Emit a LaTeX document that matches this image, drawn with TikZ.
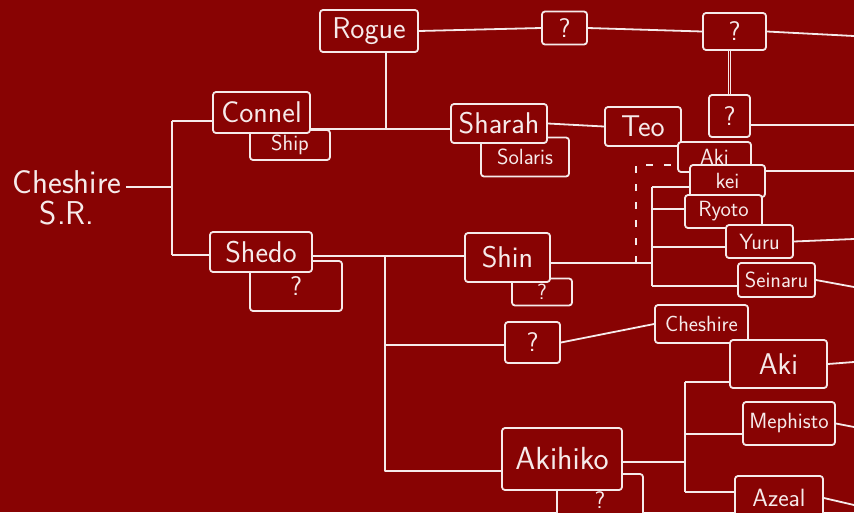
\documentclass[tikz,border=0pt]{standalone}
\usepackage{xcolor}
\usepackage{tikz}
\usetikzlibrary{calc, positioning}

\definecolor{nen}{RGB}{136,3,3}
\definecolor{phan}{RGB}{246,234,234}

\begin{document}
\begin{tikzpicture}[x=1pt, y=-1pt, line width=1.8pt, color=phan, line join=round,
    hop/.style 2 args={draw, fill=nen, rounded corners=3pt, inner sep=0pt,
        minimum width=#1, minimum height=#2, text=phan,
        font=\sffamily\fontsize{30}{32}\selectfont},
    nho/.style={font=\sffamily\fontsize{22}{24}\selectfont},
    hoi/.style={font=\sffamily\fontsize{27}{29}\selectfont}]
    % Nen
    \fill[nen] (0,0) rectangle (854,512);
    \useasboundingbox (0,0) rectangle (854,512);
    \clip (0,0) rectangle (854,512);

    % Goc
    \node[align=center, text=phan, font=\sffamily\fontsize{33}{31}\selectfont] (cheshire) at (67,198) {Cheshire\\S.R.};

    % Cac o phu (ve truoc, bi che mot phan)
    \node[hop={80pt}{30pt}, nho] (ship) at (290,145) {Ship};
    \node[hop={92pt}{50pt}, hoi] (shedoq) at (296,286) {?};
    \node[hop={88pt}{39pt}, nho] (solaris) at (525,157) {Solaris};
    \node[hop={60pt}{27pt}, font=\sffamily\fontsize{22}{24}\selectfont] (shinq) at (542,292) {?};
    \node[hop={86pt}{52pt}, font=\sffamily\fontsize{24}{26}\selectfont] (akihikoq) at (600,500) {?};

    % Doi 1
    \node[hop={97pt}{41pt}] (connel) at (261.5,112.5) {Connel};
    \node[hop={102pt}{40pt}] (shedo) at (261,252) {Shedo};

    % Doi 2
    \node[hop={98pt}{42pt}] (rogue) at (369,31) {Rogue};
    \node[hop={96pt}{39pt}] (sharah) at (499,123.5) {Sharah};
    \node[hop={85pt}{49pt}] (shin) at (507.5,257.5) {Shin};
    \node[hop={55pt}{41pt}, hoi] (qd) at (532.5,342.5) {?};
    \node[hop={120pt}{62pt}, font=\sffamily\fontsize{32}{34}\selectfont] (akihiko) at (562,459) {Akihiko};

    % Doi 3
    \node[hop={45pt}{33pt}, hoi] (qa) at (564.5,28) {?};
    \node[hop={63pt}{37pt}, hoi] (qb) at (734.5,31.5) {?};
    \node[hop={41pt}{42pt}, hoi] (qc) at (729.5,116) {?};
    \node[hop={76pt}{39pt}] (teo) at (643,126.5) {Teo};
    \node[hop={73pt}{30pt}, nho] (akia) at (714.5,157) {Aki};
    \node[hop={75pt}{32pt}, nho] (kei) at (727.5,181) {kei};
    \node[hop={77pt}{33pt}, nho] (ryoto) at (723.5,211.5) {Ryoto};
    \node[hop={67pt}{33pt}, nho] (yuru) at (759.5,241.5) {Yuru};
    \node[hop={77pt}{34pt}, nho] (seinaru) at (776.5,280) {Seinaru};
    \node[hop={93pt}{38pt}, nho] (cheshireb) at (701.5,324) {Cheshire};
    \node[hop={97pt}{48pt}] (akib) at (778.5,364) {Aki};
    \node[hop={92pt}{43pt}, nho] (mephisto) at (789,423.5) {Mephisto};
    \node[hop={88pt}{44pt}, font=\sffamily\fontsize{25}{27}\selectfont] (azeal) at (779,498) {Azeal};

    % Nhanh tu goc
    \coordinate (g) at (172,187);
    \coordinate (g1) at (172,121);
    \coordinate (g2) at (172,255);
    \draw (cheshire.east |- g) -- (g);
    \draw (g1) -- (g2);
    \draw (g1) -- (g1 -| connel.west);
    \draw (g2) -- (g2 -| shedo.west);

    % Connel - Rogue - Sharah
    \coordinate (t1) at (386,129);
    \draw (connel.east |- t1) -- (t1) -- (t1 -| sharah.west);
    \draw (t1) -- (t1 |- rogue.south);
    \draw (rogue.east) -- (qa.west);
    \draw (qa.east) -- (qb.west);
    \draw[double=nen, double distance=1.2pt, line width=.9pt] (qc.north |- qb.south) -- (qc.north);
    \draw (sharah.east) -- (teo.west);

    % Shedo - Shin - Akihiko
    \coordinate (t2) at (385,256);
    \coordinate (t3) at (385,345);
    \coordinate (t4) at (385,471);
    \draw (shedo.east |- t2) -- (t2) -- (t2 -| shin.west);
    \draw (t2) -- (t4) -- (t4 -| akihiko.west);
    \draw (t3) -- (t3 -| qd.west);
    \draw (qd.east) -- (cheshireb.west);

    % Con cua Shin
    \coordinate (s0) at (652,263);
    \coordinate (s1) at (652,187);
    \coordinate (s2) at (652,209);
    \coordinate (s3) at (652,247);
    \coordinate (s4) at (652,286);
    \draw (shin.east |- s0) -- (s0);
    \draw (s1) -- (s4);
    \draw (s1) -- (s1 -| kei.west);
    \draw (s2) -- (s2 -| ryoto.west);
    \draw (s3) -- (s3 -| yuru.west);
    \draw (s4) -- (s4 -| seinaru.west);
    \coordinate (d0) at (636,263);
    \coordinate (d1) at (636,165);
    \draw[line width=1.4pt, dash pattern=on 7pt off 11pt] (d0) -- (d1) -- (d1 -| akia.west);

    % Con cua Akihiko
    \coordinate (a0) at (685,462);
    \coordinate (a1) at (685,382);
    \coordinate (a2) at (685,434);
    \coordinate (a3) at (685,492);
    \draw (akihiko.east |- a0) -- (a0);
    \draw (a1) -- (a3);
    \draw (a1) -- (a1 -| akib.west);
    \draw (a2) -- (a2 -| mephisto.west);
    \draw (a3) -- (a3 -| azeal.west);

    % Duong ra mep phai
    \coordinate (r1) at (854,36);
    \coordinate (r2) at (854,125);
    \coordinate (r3) at (854,171);
    \coordinate (r4) at (854,239);
    \coordinate (r5) at (854,287);
    \coordinate (r6) at (854,362);
    \coordinate (r7) at (854,427);
    \coordinate (r8) at (854,505);
    \draw (qb.east) -- (r1);
    \draw (qc.east |- r2) -- (r2);
    \draw (kei.east |- r3) -- (r3);
    \draw (yuru.east) -- (r4);
    \draw (seinaru.east) -- (r5);
    \draw (akib.east) -- (r6);
    \draw (mephisto.east) -- (r7);
    \draw (azeal.east) -- (r8);
\end{tikzpicture}
\end{document}
